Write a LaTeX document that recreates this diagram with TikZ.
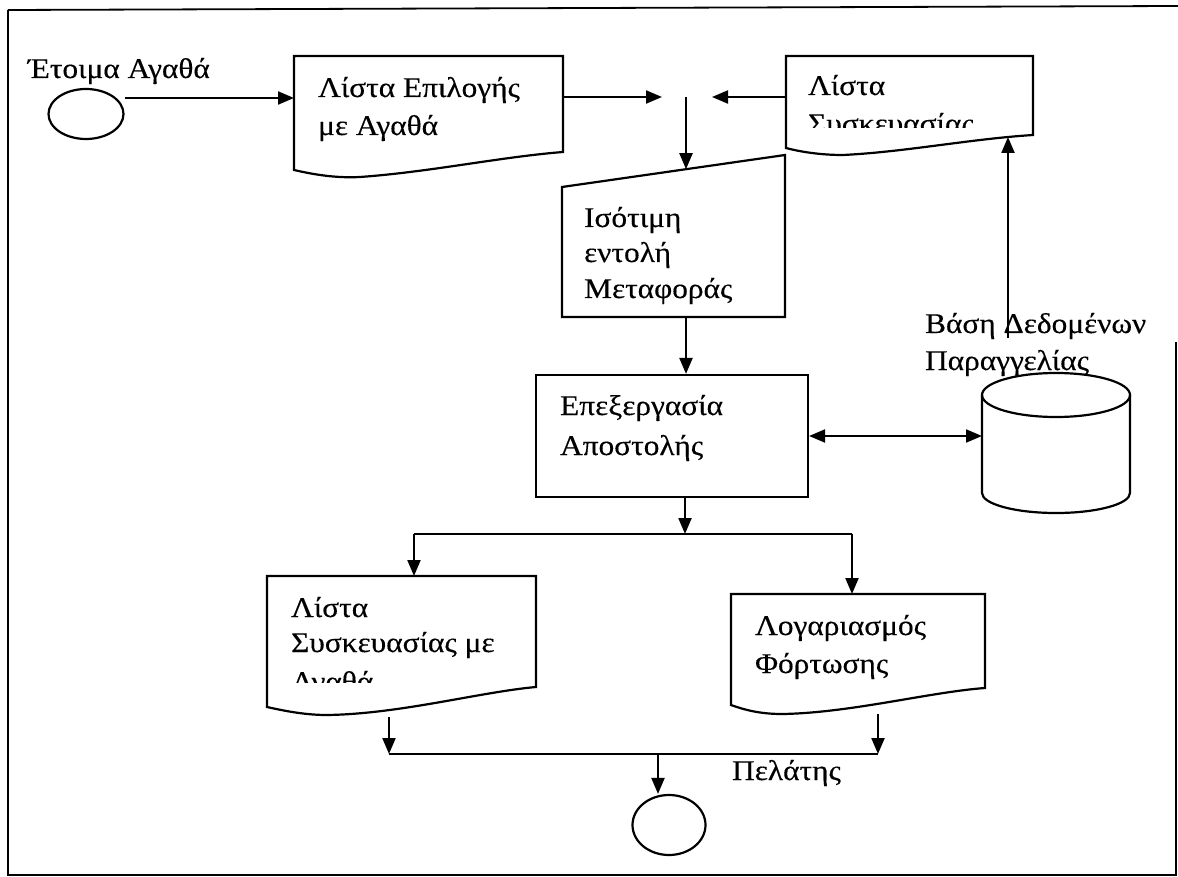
\documentclass[tikz,border=0pt]{standalone}
\usepackage{fontspec}
\setmainfont{Liberation Serif}[FakeStretch=1.1,FakeBold=0.3]
\usetikzlibrary{arrows.meta,shapes.geometric}

\begin{document}
\begin{tikzpicture}[x=1pt,y=-1pt,
  line width=2.2pt,
  flow/.style={-{Triangle[length=16pt,width=13pt]}},
  both/.style={{Triangle[length=16pt,width=13pt]}-{Triangle[length=16pt,width=13pt]}},
  lbl/.style={anchor=base west,inner sep=0pt,font=\fontsize{28.5}{33}\selectfont},
  term/.style={draw,ellipse,inner sep=0pt},
  frame/.style={line width=1.8pt},
]
\useasboundingbox (0,0) rectangle (1178,877);

% page frame
\draw[frame] (8,10) -- (1178,6);
\draw[frame] (8,10) -- (8,875) -- (1176,875) -- (1176,342);

% start terminal
\node[term,minimum width=75pt,minimum height=50pt] (start) at (86,114) {};
\node[lbl] (startlbl) at (27,78) {Έτοιμα Αγαθά};

% picking list document
\draw (294,170) -- (294,56) -- (563,56) -- (563,152)
  .. controls (500,157) and (430,172) .. (360,177)
  .. controls (340,178) and (320,176) .. (294,170) -- cycle;
\node[lbl] (pick1) at (317,97) {Λίστα Επιλογής};
\node[lbl] (pick2) at (317,135) {με Αγαθά};
\coordinate (pickin) at (294,98);
\coordinate (pickout) at (563,97);

% packing list document (top right)
\draw (786,148) -- (786,56) -- (1033,56) -- (1033,135)
  .. controls (970,139) and (905,152) .. (843,155)
  .. controls (825,155) and (805,153) .. (786,148) -- cycle;
\node[lbl] (pack1) at (807,95) {Λίστα};
\begin{scope}
  \clip (790,60) rectangle (1030,128);
  \node[lbl] (pack2) at (807,133) {Συσκευασίας};
\end{scope}
\coordinate (packout) at (786,97);
\coordinate (packin) at (1008,137);

% merge point
\coordinate (mergeL) at (662,97);
\coordinate (mergeR) at (712,97);
\coordinate (mergeD) at (686,97);

% bill of lading input
\draw (562,187) -- (785,155) -- (785,317) -- (562,317) -- cycle;
\node[lbl] (bol1) at (583,227) {Ισότιμη};
\node[lbl] (bol2) at (583,262) {εντολή};
\node[lbl] (bol3) at (583,298) {Μεταφοράς};
\coordinate (boltop) at (686,169.2);
\coordinate (bolbot) at (686,317);

% shipping process
\node[draw,minimum width=272pt,minimum height=122pt,inner sep=0pt] (proc) at (672,436) {};
\node[lbl] (proc1) at (559,415) {Επεξεργασία};
\node[lbl] (proc2) at (559,455) {Αποστολής};

% order database
\draw (1056,395) ellipse [x radius=74, y radius=22];
\draw (982,395) -- (982,493)
  .. controls (982,504) and (1015,513) .. (1056,513)
  .. controls (1097,513) and (1130,504) .. (1130,493) -- (1130,395);
\node[lbl] (db1) at (924,333) {Βάση Δεδομένων};
\node[lbl] (db2) at (924,370) {Παραγγελίας};
\coordinate (dbw) at (982,436);
\coordinate (dbup) at (1008,338);

% split below the process
\coordinate (split) at (685,534);
\coordinate (brL) at (414,534);
\coordinate (brR) at (852,534);

% packing list with goods
\draw (267,707) -- (267,576) -- (536,576) -- (536,687)
  .. controls (480,692) and (400,714) .. (327,715)
  .. controls (305,715) and (285,711) .. (267,707) -- cycle;
\node[lbl] (pg1) at (290,617) {Λίστα};
\node[lbl] (pg2) at (290,652) {Συσκευασίας με};
\begin{scope}
  \clip (270,580) rectangle (533,682);
  \node[lbl] (pg3) at (290,691) {Αγαθά};
\end{scope}
\coordinate (pgin) at (414,576);
\coordinate (pgout) at (389,717);

% bill of lading document
\draw (731,705) -- (731,594) -- (985,594) -- (985,688)
  .. controls (930,692) and (850,713) .. (782,714)
  .. controls (760,714) and (745,710) .. (731,705) -- cycle;
\node[lbl] (bl1) at (754,635) {Λογαριασμός};
\node[lbl] (bl2) at (754,673) {Φόρτωσης};
\coordinate (blin) at (852,594);
\coordinate (blout) at (878,714);

% customer terminal
\coordinate (jL) at (389,754);
\coordinate (jR) at (878,754);
\coordinate (jM) at (658,754);
\node[term,minimum width=73pt,minimum height=60pt] (cust) at (669,825) {};
\node[lbl] (custlbl) at (731,780) {Πελάτης};

% connectors
\draw[flow] (start.east |- pickin) -- (pickin);
\draw[flow] (pickout) -- (mergeL);
\draw[flow] (packout) -- (mergeR);
\draw[flow] (mergeD) -- (boltop);
\draw[flow] (bolbot) -- (bolbot |- proc.north);
\draw[both] (proc.east) -- (dbw);
\draw[flow] (dbup) -- (packin);
\draw[flow] (split |- proc.south) -- (split);
\draw (brL) -- (brR);
\draw[flow] (brL) -- (pgin);
\draw[flow] (brR) -- (blin);
\draw[flow] (pgout) -- (jL);
\draw[flow] (blout) -- (jR);
\draw (jL) -- (jR);
\draw[flow] (jM) -- (jM |- cust.north);
\end{tikzpicture}
\end{document}
